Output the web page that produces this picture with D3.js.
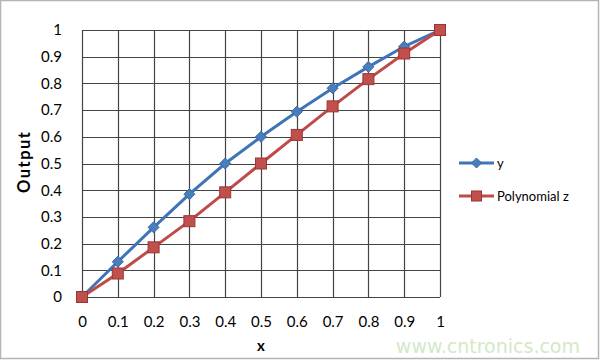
<!DOCTYPE html>
<html><head><meta charset="utf-8">
<script src="https://cdn.jsdelivr.net/npm/d3@7"></script>
<style>body{margin:0;background:#fff}svg{display:block}</style>
</head><body>
<script>
const xValues = [0, 0.1, 0.2, 0.3, 0.4, 0.5, 0.6, 0.7, 0.8, 0.9, 1];
const ySeries = [0, 0.132, 0.261, 0.385, 0.5, 0.6, 0.694, 0.782, 0.862, 0.938, 1];
const zSeries = [0, 0.088, 0.186, 0.284, 0.392, 0.5, 0.607, 0.714, 0.816, 0.912, 1];
const xTicks = [0, 0.1, 0.2, 0.3, 0.4, 0.5, 0.6, 0.7, 0.8, 0.9, 1];
const yTicks = [0, 0.1, 0.2, 0.3, 0.4, 0.5, 0.6, 0.7, 0.8, 0.9, 1];
const seriesNames = ["y", "Polynomial z"];

const W = 600, H = 361;
const m = {left: 82, right: 160, top: 30, bottom: 64};
const svg = d3.select("body").append("svg").attr("width", W).attr("height", H);
const font = "Lato, 'Open Sans', sans-serif";

svg.append("rect").attr("x", 0.5).attr("y", 0.5).attr("width", 598).attr("height", 358)
  .attr("fill", "#fff").attr("stroke", "#b4b4b4").attr("stroke-width", 1.5);

const x = d3.scaleLinear().domain([0, 1]).range([m.left, W - m.right]);
const y = d3.scaleLinear().domain([0, 1]).range([H - m.bottom, m.top]);

const g = svg.append("g");
g.selectAll(".vg").data(xTicks).enter().append("line")
  .attr("x1", d => Math.round(x(d)) + 0.5).attr("x2", d => Math.round(x(d)) + 0.5)
  .attr("y1", y(0)).attr("y2", y(1)).attr("stroke", "#444").attr("stroke-width", 1.2);
g.selectAll(".hg").data(yTicks).enter().append("line")
  .attr("y1", d => Math.round(y(d)) + 0.5).attr("y2", d => Math.round(y(d)) + 0.5)
  .attr("x1", x(0)).attr("x2", x(1)).attr("stroke", "#444").attr("stroke-width", 1.2);

const xAxis = svg.append("g").attr("transform", `translate(0,${y(0)})`)
  .call(d3.axisBottom(x).tickValues(xTicks).tickFormat(d3.format("")).tickSize(0).tickPadding(19));
const yAxis = svg.append("g").attr("transform", `translate(${x(0)},0)`)
  .call(d3.axisLeft(y).tickValues(yTicks).tickFormat(d3.format("")).tickSize(0).tickPadding(20));
[xAxis, yAxis].forEach(a => {
  a.select(".domain").remove();
  a.selectAll("text").attr("font-family", font).attr("font-size", 15).attr("fill", "#000");
});

svg.append("text").attr("x", x(0.5)).attr("y", 351).attr("text-anchor", "middle")
  .attr("font-family", font).attr("font-size", 15).attr("font-weight", "bold").text("x");
svg.append("text").attr("transform", `translate(30,${(y(0) + y(1)) / 2 - 1}) rotate(-90)`)
  .attr("text-anchor", "middle").attr("font-family", font).attr("font-size", 16.5)
  .attr("font-weight", "bold").attr("textLength", 61).attr("lengthAdjust", "spacing").text("Output");

const line = d3.line().x((d, i) => x(xValues[i])).y(d => y(d));
const colors = [{line: "#3f74b6", fill: "#4a7ebb", stroke: "#3a6aa8"}, {line: "#be4b48", fill: "#c0504d", stroke: "#9e3532"}];

function diamond(sel, cx, cy, r, c) {
  sel.append("path").attr("d", `M${cx},${cy - r}L${cx + r},${cy}L${cx},${cy + r}L${cx - r},${cy}Z`)
    .attr("fill", c.fill).attr("stroke", c.stroke).attr("stroke-width", 1);
}
function square(sel, cx, cy, s, c) {
  sel.append("rect").attr("x", cx - s / 2).attr("y", cy - s / 2).attr("width", s).attr("height", s)
    .attr("fill", c.fill).attr("stroke", c.stroke).attr("stroke-width", 1);
}

svg.append("path").datum(ySeries).attr("d", line).attr("fill", "none")
  .attr("stroke", colors[0].line).attr("stroke-width", 3);
const gy = svg.append("g");
ySeries.forEach((v, i) => diamond(gy, x(xValues[i]), y(v), 5.5, colors[0]));

svg.append("path").datum(zSeries).attr("d", line).attr("fill", "none")
  .attr("stroke", colors[1].line).attr("stroke-width", 3);
const gz = svg.append("g");
zSeries.forEach((v, i) => square(gz, x(xValues[i]), y(v), 11, colors[1]));

const lg = svg.append("g");
[163, 196].forEach((ly, i) => {
  lg.append("line").attr("x1", 459).attr("x2", 494).attr("y1", ly).attr("y2", ly)
    .attr("stroke", colors[i].line).attr("stroke-width", 3);
  if (i === 0) diamond(lg, 476.5, ly, 5, colors[0]); else square(lg, 476.5, ly, 10, colors[1]);
  lg.append("text").attr("x", 497).attr("y", ly + 4.5).attr("font-family", font)
    .attr("font-size", 13).text(seriesNames[i]);
});

svg.append("text").attr("x", 580).attr("y", 353).attr("text-anchor", "end")
  .attr("font-family", "'DejaVu Sans', sans-serif").attr("font-size", 19)
  .attr("fill", "#d3e8c8").text("www.cntronics.com");
</script>
</body></html>
